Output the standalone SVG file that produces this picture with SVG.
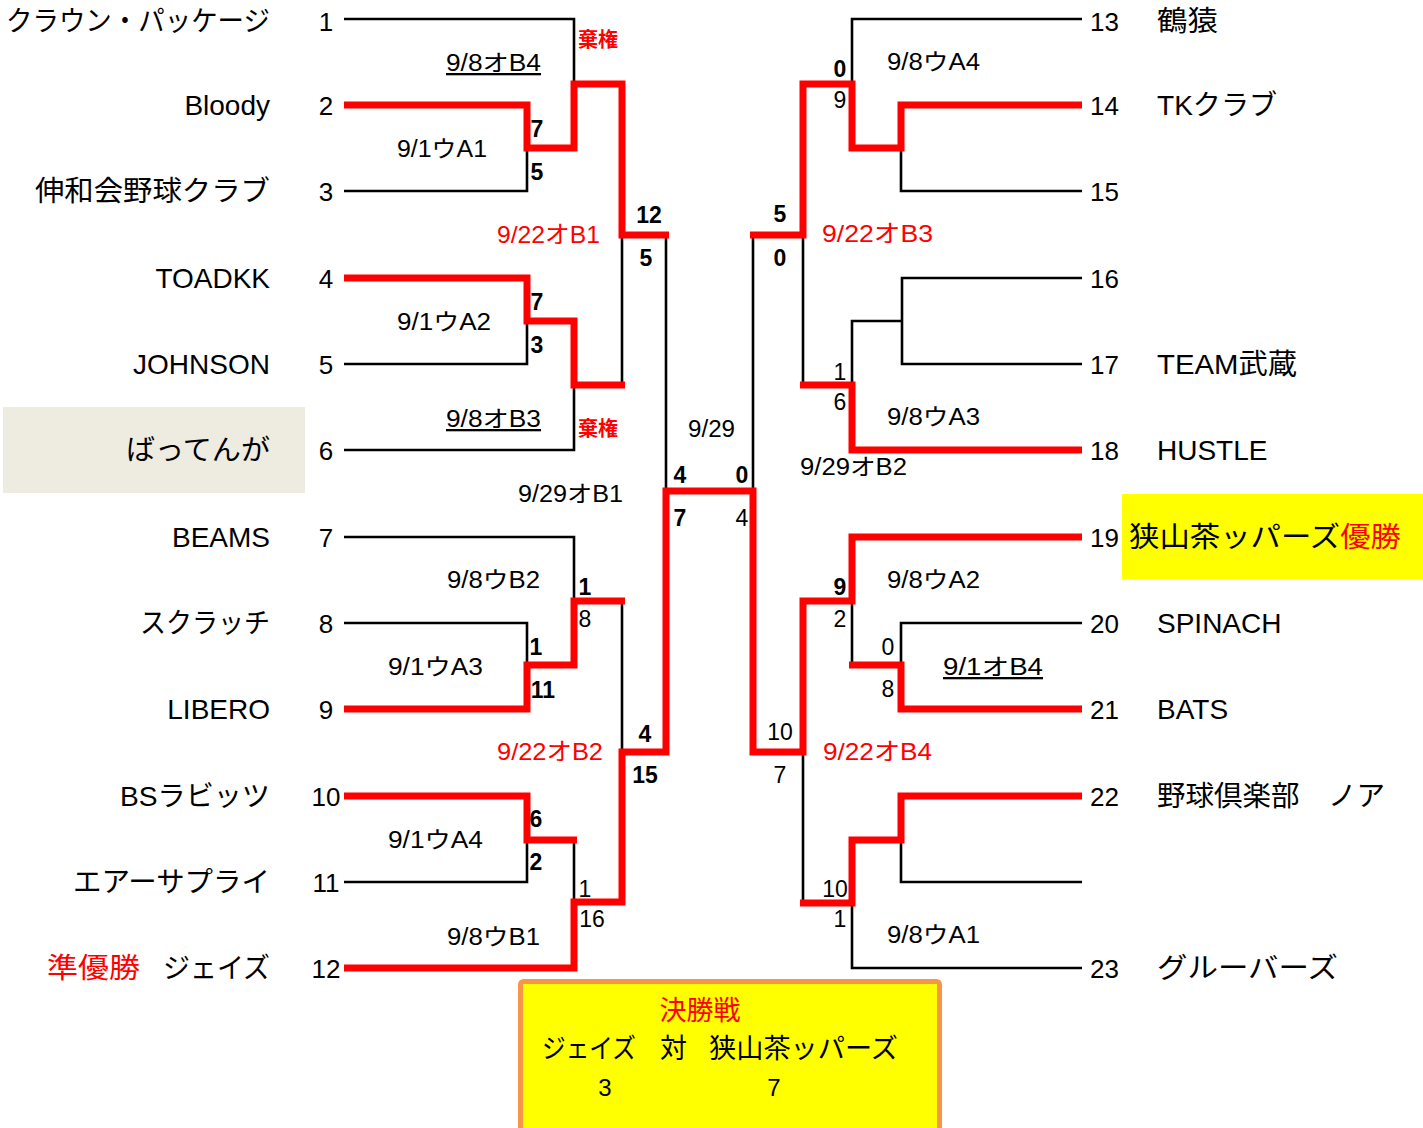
<svg xmlns="http://www.w3.org/2000/svg" width="1423" height="1128" viewBox="0 0 1423 1128">
<style>
text{font-family:"Liberation Sans","Noto Sans CJK JP",sans-serif;fill:#000}
.nm{font-size:28px}
.nl{text-anchor:end}
.no{font-size:26px}
.nol{text-anchor:middle}
.sb{font-size:23px;font-weight:bold;text-anchor:middle}
.sn{font-size:23px;text-anchor:middle}
.dt{font-size:23px}
.dr{font-size:24px;fill:#f00}
.kk{font-size:20px;font-weight:bold;fill:#f00}
.u{text-decoration:underline}
.red{fill:#f00}
.bk{fill:none;stroke:#000;stroke-width:2.6}
.rd{fill:none;stroke:#f00;stroke-width:7;stroke-linejoin:miter}
</style>
<rect x="3" y="407" width="302" height="86" fill="#EEECE1"/>
<rect x="1122" y="494" width="301" height="85" fill="#FFFF00"/>

<g id="connectors">
<path class="bk" d="M344,19 H574 V84"/>
<path class="bk" d="M344,191 H527 V148"/>
<path class="bk" d="M344,364 H527 V321"/>
<path class="bk" d="M344,450 H574 V385"/>
<path class="bk" d="M622,235 V385"/>
<path class="bk" d="M666,235 V491"/>
<path class="bk" d="M344,537 H574 V601"/>
<path class="bk" d="M344,623 H527 V665"/>
<path class="bk" d="M622,601 V752"/>
<path class="bk" d="M344,882 H527 V840"/>
<path class="bk" d="M574,840 V902"/>
<path class="bk" d="M1082,19 H852 V84"/>
<path class="bk" d="M1082,191 H901 V148"/>
<path class="bk" d="M803,235 V385"/>
<path class="bk" d="M753,235 V491"/>
<path class="bk" d="M1082,278 H902 V364 H1082"/>
<path class="bk" d="M902,321 H852 V385"/>
<path class="bk" d="M1082,623 H901 V665"/>
<path class="bk" d="M852,601 V665"/>
<path class="bk" d="M803,752 V903"/>
<path class="bk" d="M1082,882 H901 V840"/>
<path class="bk" d="M1082,968 H852 V903"/>
<path class="rd" d="M344,105 H527 V148 H574 V84 H622 V235 H669"/>
<path class="rd" d="M344,278 H527 V321 H574 V385 H625"/>
<path class="rd" d="M344,709 H527 V665 H574 V601 H625"/>
<path class="rd" d="M344,796 H527 V840 H577"/>
<path class="rd" d="M344,968 H574 V902 H622 V752 H666 V491 H753 V752 H803 V601 H852 V537 H1082"/>
<path class="rd" d="M1082,105 H901 V148 H852 V84 H803 V235 H750"/>
<path class="rd" d="M1082,450 H852 V385 H800"/>
<path class="rd" d="M1082,709 H901 V665 H849"/>
<path class="rd" d="M1082,796 H901 V840 H852 V903 H800"/>
</g>

<g id="team1"><text class="nm nl" x="270" y="31" textLength="264" lengthAdjust="spacingAndGlyphs">クラウン・パッケージ</text><text class="no nol" x="326" y="31">1</text></g>
<g id="team2"><text class="nm nl" x="270" y="115">Bloody</text><text class="no nol" x="326" y="115">2</text></g>
<g id="team3"><text class="nm nl" x="270" y="201" textLength="235" lengthAdjust="spacingAndGlyphs">伸和会野球クラブ</text><text class="no nol" x="326" y="201">3</text></g>
<g id="team4"><text class="nm nl" x="270" y="288">TOADKK</text><text class="no nol" x="326" y="288">4</text></g>
<g id="team5"><text class="nm nl" x="270" y="374">JOHNSON</text><text class="no nol" x="326" y="374">5</text></g>
<g id="team6"><text class="nm nl" x="270" y="460" textLength="144" lengthAdjust="spacingAndGlyphs">ばってんが</text><text class="no nol" x="326" y="460">6</text></g>
<g id="team7"><text class="nm nl" x="270" y="547">BEAMS</text><text class="no nol" x="326" y="547">7</text></g>
<g id="team8"><text class="nm nl" x="270" y="633" textLength="130" lengthAdjust="spacingAndGlyphs">スクラッチ</text><text class="no nol" x="326" y="633">8</text></g>
<g id="team9"><text class="nm nl" x="270" y="719">LIBERO</text><text class="no nol" x="326" y="719">9</text></g>
<g id="team10"><text class="nm nl" x="270" y="806" textLength="150" lengthAdjust="spacingAndGlyphs">BSラビッツ</text><text class="no nol" x="326" y="806">10</text></g>
<g id="team11"><text class="nm nl" x="270" y="892" textLength="197" lengthAdjust="spacingAndGlyphs">エアーサプライ</text><text class="no nol" x="326" y="892">11</text></g>
<g id="team12"><text class="nm red" x="47" y="978" textLength="93" lengthAdjust="spacingAndGlyphs">準優勝</text><text class="nm nl" x="270" y="978" textLength="107" lengthAdjust="spacingAndGlyphs">ジェイズ</text><text class="no nol" x="326" y="978">12</text></g>

<g id="team13"><text class="no" x="1090" y="31">13</text><text class="nm" x="1157" y="31" textLength="61" lengthAdjust="spacingAndGlyphs">鶴猿</text></g>
<g id="team14"><text class="no" x="1090" y="115">14</text><text class="nm" x="1157" y="115" textLength="120" lengthAdjust="spacingAndGlyphs">TKクラブ</text></g>
<g id="team15"><text class="no" x="1090" y="201">15</text></g>
<g id="team16"><text class="no" x="1090" y="288">16</text></g>
<g id="team17"><text class="no" x="1090" y="374">17</text><text class="nm" x="1157" y="374" textLength="140" lengthAdjust="spacingAndGlyphs">TEAM武蔵</text></g>
<g id="team18"><text class="no" x="1090" y="460">18</text><text class="nm" x="1157" y="460">HUSTLE</text></g>
<g id="team19"><text class="no" x="1090" y="547">19</text><text class="nm" x="1129" y="547" textLength="272" lengthAdjust="spacingAndGlyphs">狭山茶ッパーズ<tspan class="red">優勝</tspan></text></g>
<g id="team20"><text class="no" x="1090" y="633">20</text><text class="nm" x="1157" y="633">SPINACH</text></g>
<g id="team21"><text class="no" x="1090" y="719">21</text><text class="nm" x="1157" y="719">BATS</text></g>
<g id="team22"><text class="no" x="1090" y="806">22</text><text class="nm" x="1157" y="806" textLength="228" lengthAdjust="spacingAndGlyphs">野球倶楽部　ノア</text></g>
<g id="team23"><text class="no" x="1090" y="978">23</text><text class="nm" x="1157" y="978" textLength="181" lengthAdjust="spacingAndGlyphs">グルーバーズ</text></g>

<g id="m-8-B4"><text class="dt u" x="446" y="71" textLength="95" lengthAdjust="spacingAndGlyphs">9/8オB4</text><text class="kk" x="578" y="47">棄権</text></g>
<g id="m-1-A1"><text class="dt" x="397" y="157" textLength="90" lengthAdjust="spacingAndGlyphs">9/1ウA1</text><text class="sb" x="537" y="137">7</text><text class="sb" x="537" y="180">5</text></g>
<g id="m-22-B1"><text class="dr" x="497" y="243" textLength="103" lengthAdjust="spacingAndGlyphs">9/22オB1</text><text class="sb" x="649" y="223">12</text><text class="sb" x="646" y="266">5</text></g>
<g id="m-1-A2"><text class="dt" x="397" y="330" textLength="94" lengthAdjust="spacingAndGlyphs">9/1ウA2</text><text class="sb" x="537" y="310">7</text><text class="sb" x="537" y="353">3</text></g>
<g id="m-8-B3"><text class="dt u" x="446" y="427" textLength="95" lengthAdjust="spacingAndGlyphs">9/8オB3</text><text class="kk" x="578" y="436">棄権</text></g>
<g id="m-29-B1"><text class="dt" x="518" y="502" textLength="105" lengthAdjust="spacingAndGlyphs">9/29オB1</text><text class="sb" x="680" y="483">4</text><text class="sb" x="680" y="526">7</text></g>
<g id="m-final"><text class="dt" x="688" y="437" textLength="47" lengthAdjust="spacingAndGlyphs">9/29</text></g>
<g id="m-8-B2"><text class="dt" x="447" y="588" textLength="93" lengthAdjust="spacingAndGlyphs">9/8ウB2</text><text class="sb" x="585" y="595">1</text><text class="sn" x="585" y="627">8</text></g>
<g id="m-1-A3"><text class="dt" x="388" y="675" textLength="95" lengthAdjust="spacingAndGlyphs">9/1ウA3</text><text class="sb" x="536" y="655">1</text><text class="sb" x="543" y="698">11</text></g>
<g id="m-22-B2"><text class="dr" x="497" y="760" textLength="106" lengthAdjust="spacingAndGlyphs">9/22オB2</text><text class="sb" x="645" y="742">4</text><text class="sb" x="645" y="783">15</text></g>
<g id="m-1-A4"><text class="dt" x="388" y="848" textLength="95" lengthAdjust="spacingAndGlyphs">9/1ウA4</text><text class="sb" x="536" y="827">6</text><text class="sb" x="536" y="870">2</text></g>
<g id="m-8-B1"><text class="dt" x="447" y="945" textLength="93" lengthAdjust="spacingAndGlyphs">9/8ウB1</text><text class="sn" x="585" y="897">1</text><text class="sn" x="592" y="927">16</text></g>

<g id="m-8-A4"><text class="dt" x="887" y="70" textLength="93" lengthAdjust="spacingAndGlyphs">9/8ウA4</text><text class="sb" x="840" y="77">0</text><text class="sn" x="840" y="108">9</text></g>
<g id="m-22-B3"><text class="dr" x="822" y="242" textLength="111" lengthAdjust="spacingAndGlyphs">9/22オB3</text><text class="sb" x="780" y="222">5</text><text class="sb" x="780" y="266">0</text></g>
<g id="m-8-A3"><text class="dt" x="887" y="425" textLength="93" lengthAdjust="spacingAndGlyphs">9/8ウA3</text><text class="sn" x="840" y="380">1</text><text class="sn" x="840" y="410">6</text></g>
<g id="m-29-B2"><text class="dt" x="800" y="475" textLength="107" lengthAdjust="spacingAndGlyphs">9/29オB2</text><text class="sb" x="742" y="483">0</text><text class="sn" x="742" y="526">4</text></g>
<g id="m-8-A2"><text class="dt" x="887" y="588" textLength="93" lengthAdjust="spacingAndGlyphs">9/8ウA2</text><text class="sb" x="840" y="595">9</text><text class="sn" x="840" y="627">2</text></g>
<g id="m-1-B4"><text class="dt u" x="943" y="675" textLength="100" lengthAdjust="spacingAndGlyphs">9/1オB4</text><text class="sn" x="888" y="655">0</text><text class="sn" x="888" y="697">8</text></g>
<g id="m-22-B4"><text class="dr" x="823" y="760" textLength="109" lengthAdjust="spacingAndGlyphs">9/22オB4</text><text class="sn" x="780" y="740">10</text><text class="sn" x="780" y="783">7</text></g>
<g id="m-8-A1"><text class="dt" x="887" y="943" textLength="93" lengthAdjust="spacingAndGlyphs">9/8ウA1</text><text class="sn" x="835" y="897">10</text><text class="sn" x="840" y="927">1</text></g>

<g id="final-box">
<rect x="520.5" y="981.5" width="419" height="150" rx="3" fill="#FFFF00" stroke="#F79646" stroke-width="5"/>
<text x="700" y="1020" font-size="27" text-anchor="middle" class="red">決勝戦</text>
<text x="542" y="1058" font-size="27" textLength="94" lengthAdjust="spacingAndGlyphs">ジェイズ</text>
<text x="660" y="1058" font-size="27">対</text>
<text x="709" y="1058" font-size="27" textLength="189" lengthAdjust="spacingAndGlyphs">狭山茶ッパーズ</text>
<text x="605" y="1096" font-size="24" text-anchor="middle">3</text>
<text x="774" y="1096" font-size="24" text-anchor="middle">7</text>
</g>
</svg>
